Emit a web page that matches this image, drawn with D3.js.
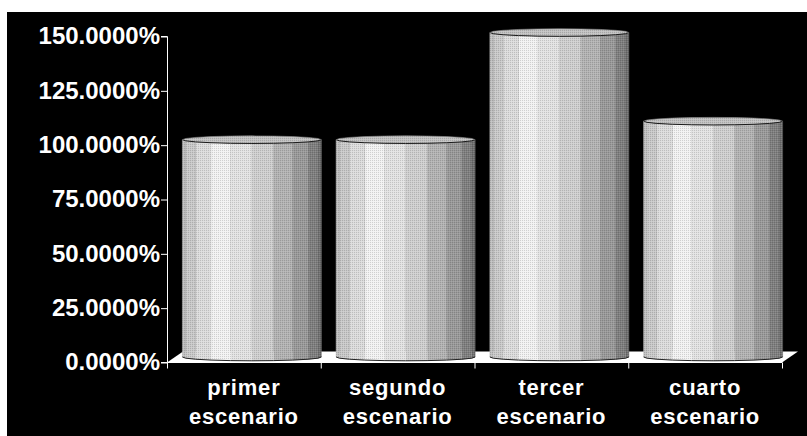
<!DOCTYPE html>
<html>
<head>
<meta charset="utf-8">
<script src="https://cdn.jsdelivr.net/npm/d3@7"></script>
<style>
  body { margin: 0; background: #fff; }
  svg { display: block; }
  text { font-family: "Liberation Sans", Arial, sans-serif; font-weight: bold; }
</style>
</head>
<body>
<div id="chart"></div>
<script>
// data
var categories = [["primer", "escenario"], ["segundo", "escenario"], ["tercer", "escenario"], ["cuarto", "escenario"]];
var values = [100, 100, 149.3, 108.5];   // percent
var tickValues = [0, 25, 50, 75, 100, 125, 150];

var width = 807, height = 436;
var svg = d3.select("#chart").append("svg")
    .attr("width", width)
    .attr("height", height);

// black panel
svg.append("rect")
    .attr("x", 7).attr("y", 12)
    .attr("width", width - 7).attr("height", height - 12)
    .attr("fill", "#000");

var defs = svg.append("defs");
var dither = defs.append("pattern")
    .attr("id", "dither")
    .attr("width", 2).attr("height", 2)
    .attr("patternUnits", "userSpaceOnUse");
dither.append("rect").attr("x", 0).attr("y", 0).attr("width", 1).attr("height", 1).attr("fill", "#000").attr("opacity", 0.14);
dither.append("rect").attr("x", 1).attr("y", 1).attr("width", 1).attr("height", 1).attr("fill", "#fff").attr("opacity", 0.12);

var plotLeft = 167, plotRight = 782, plotBottom = 362.5, plotTop = 36.5;
var depthX = 16, depthY = -11;

var y = d3.scaleLinear().domain([0, 150]).range([plotBottom, plotTop]);
var x = d3.scaleBand().domain(d3.range(categories.length)).range([plotLeft, plotRight]).padding(0);

// floor
svg.append("polygon")
    .attr("points", [[plotLeft, plotBottom], [plotRight, plotBottom], [plotRight + depthX, plotBottom + depthY], [plotLeft + depthX, plotBottom + depthY]].join(" "))
    .attr("fill", "#fff");

// shading across the cylinder (0 = left edge, 1 = right edge)
var shade = d3.scaleLinear()
    .domain([0, 0.12, 0.27, 0.45, 0.6, 0.75, 0.88, 1])
    .range([0.74, 0.84, 0.95, 0.88, 0.8, 0.68, 0.58, 0.42]);

var N = 20;  // facets of the full cylinder
var ry = 3.8;

values.forEach(function (v, i) {
  var r = x.bandwidth() * 0.452;
  var cx = x(i) + x.bandwidth() / 2 + depthX / 2;
  var yTop = y(v) + depthY / 2;
  var yBot = y(0) + depthY / 2;
  var g = svg.append("g");

  var pts = d3.range(N + 1).map(function (k) {
    var a = Math.PI * k / (N / 2);  // 0..2pi
    return [cx + r * Math.cos(a), ry * Math.sin(a)];
  });

  // front facets (angles 0..pi)
  for (var k = 0; k < N / 2; k++) {
    var p0 = pts[k], p1 = pts[k + 1];
    var mid = ((p0[0] + p1[0]) / 2 - (cx - r)) / (2 * r);
    var c = Math.round(255 * shade(mid));
    g.append("polygon")
        .attr("points", [[p0[0], yTop + p0[1]], [p1[0], yTop + p1[1]], [p1[0], yBot + p1[1]], [p0[0], yBot + p0[1]]].join(" "))
        .attr("fill", d3.rgb(c, c, c))
        .attr("stroke", d3.rgb(c, c, c))
        .attr("stroke-width", 0.5);
  }
  var front = pts.slice(0, N / 2 + 1);
  // dither over body
  var outline = front.map(function (p) { return [p[0], yTop + p[1]]; })
      .concat(front.slice().reverse().map(function (p) { return [p[0], yBot + p[1]]; }));
  g.append("polygon")
      .attr("points", outline.join(" "))
      .attr("fill", "url(#dither)");

  // top
  g.append("polygon")
      .attr("points", pts.map(function (p) { return [p[0], yTop + p[1]]; }).join(" "))
      .attr("fill", "#c2c2c2");
  g.append("polygon")
      .attr("points", pts.map(function (p) { return [p[0], yTop + p[1]]; }).join(" "))
      .attr("fill", "url(#dither)");
  g.append("path")
      .attr("d", d3.line()(front.map(function (p) { return [p[0], yTop + p[1]]; })))
      .attr("fill", "none").attr("stroke", "#1a1a1a").attr("stroke-width", 1);
  g.append("path")
      .attr("d", d3.line()(pts.slice(N / 2).map(function (p) { return [p[0], yTop + p[1]]; })))
      .attr("fill", "none").attr("stroke", "#888").attr("stroke-width", 0.6);
  g.append("path")
      .attr("d", d3.line()(front.map(function (p) { return [p[0], yBot + p[1]]; })))
      .attr("fill", "none").attr("stroke", "#222").attr("stroke-width", 1);
});

// y axis
var yAxis = d3.axisLeft(y)
    .tickValues(tickValues)
    .tickSize(6)
    .tickPadding(1)
    .tickFormat(function (d) { return d3.format(".4%")(d / 100); });
var ya = svg.append("g")
    .attr("transform", "translate(" + plotLeft + ",0)")
    .call(yAxis);
ya.select(".domain").attr("stroke", "#fff").attr("d", "M-6," + plotTop + "H0.5V" + plotBottom + "H-6");
ya.selectAll(".tick line").attr("stroke", "#fff");
ya.selectAll(".tick text")
    .attr("fill", "#fff")
    .attr("dy", "0.3em")
    .style("font-size", "24px")
    .style("font-family", "'Liberation Sans', Arial, sans-serif")
    .style("font-weight", "bold");

// x axis ticks at band boundaries
var xa = svg.append("g");
xa.append("line")
    .attr("x1", plotLeft).attr("x2", plotRight)
    .attr("y1", plotBottom).attr("y2", plotBottom)
    .attr("stroke", "#fff");
xa.selectAll("line.tk")
    .data(d3.range(categories.length + 1))
    .enter().append("line")
    .attr("class", "tk")
    .attr("x1", function (d) { return plotLeft + d * x.bandwidth() + 0.5; })
    .attr("x2", function (d) { return plotLeft + d * x.bandwidth() + 0.5; })
    .attr("y1", plotBottom).attr("y2", plotBottom + 6)
    .attr("stroke", "#fff");

xa.selectAll("text.cat")
    .data(categories)
    .enter().append("text")
    .attr("class", "cat")
    .attr("x", function (d, i) { return x(i) + x.bandwidth() / 2; })
    .attr("y", 395)
    .attr("text-anchor", "middle")
    .attr("fill", "#fff")
    .style("font-size", "22px")
    .style("letter-spacing", "0.8px")
    .each(function (d) {
      var t = d3.select(this);
      d.forEach(function (s, j) {
        t.append("tspan")
            .attr("x", t.attr("x"))
            .attr("dy", j === 0 ? 0 : 29)
            .text(s);
      });
    });
</script>
</body>
</html>
